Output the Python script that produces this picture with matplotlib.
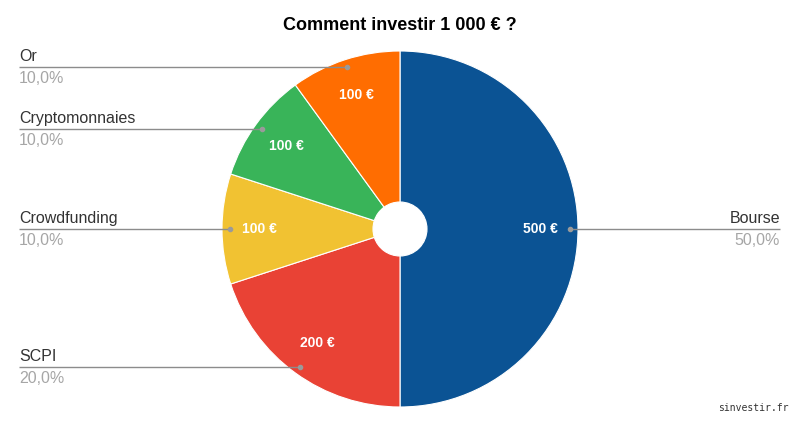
import matplotlib
matplotlib.use("Agg")
import matplotlib.pyplot as plt
import numpy as np

# Data
categories = ["Bourse", "SCPI", "Crowdfunding", "Cryptomonnaies", "Or"]
amounts = [500, 200, 100, 100, 100]
colors = ["#0b5394", "#e94235", "#f1c232", "#39b459", "#ff6d01"]
total = sum(amounts)

plt.rcParams['font.family'] = ['Liberation Sans', 'DejaVu Sans']

fig = plt.figure(figsize=(8, 4.22), dpi=100)
ax = fig.add_axes([0, 0, 1, 1])

# pie geometry in pixel units (y measured upward)
cx, cy = 400, 193
R = 178
hole = 27

wedges, _, autotexts = ax.pie(
    amounts, colors=colors, startangle=90, counterclock=False,
    center=(cx, cy), radius=R, frame=True,
    autopct=lambda p: f"{p * total / 100:.0f} €", pctdistance=0.79,
    wedgeprops=dict(width=R - hole, edgecolor="white", linewidth=0.8),
)
for t in autotexts:
    t.set_color("white")
    t.set_fontweight("bold")
    t.set_fontsize(10)

# leader lines and labels
for w, name, val in zip(wedges, categories, amounts):
    mid = np.deg2rad((w.theta1 + w.theta2) / 2)
    px = cx + 170 * np.cos(mid)
    py = cy + 170 * np.sin(mid)
    pct = f"{100 * val / total:.1f}%".replace(".", ",")
    if px > cx:
        x_end = 780
        ha = "right"
    else:
        x_end = 19
        ha = "left"
    ax.plot([px, x_end], [py, py], color="#8c8c8c", linewidth=1, solid_capstyle="butt")
    ax.plot(px, py, "o", color="#9a9a9a", markersize=3)
    ax.text(x_end, py + 3, name, ha=ha, va="bottom", fontsize=11.5, color="#333333")
    ax.text(x_end, py - 4, pct, ha=ha, va="top", fontsize=11.5, color="#a6a6a6")

ax.text(400, 396, "Comment investir 1 000 € ?", ha="center", va="center",
        fontsize=13, fontweight="bold", color="#000000")
ax.text(789, 14, "sinvestir.fr", ha="right", va="center", fontsize=7,
        family="DejaVu Sans Mono", color="#333333")

ax.set_xlim(0, 800)
ax.set_ylim(0, 422)
ax.axis("off")

fig.savefig("out.png", dpi=100, facecolor="white")
